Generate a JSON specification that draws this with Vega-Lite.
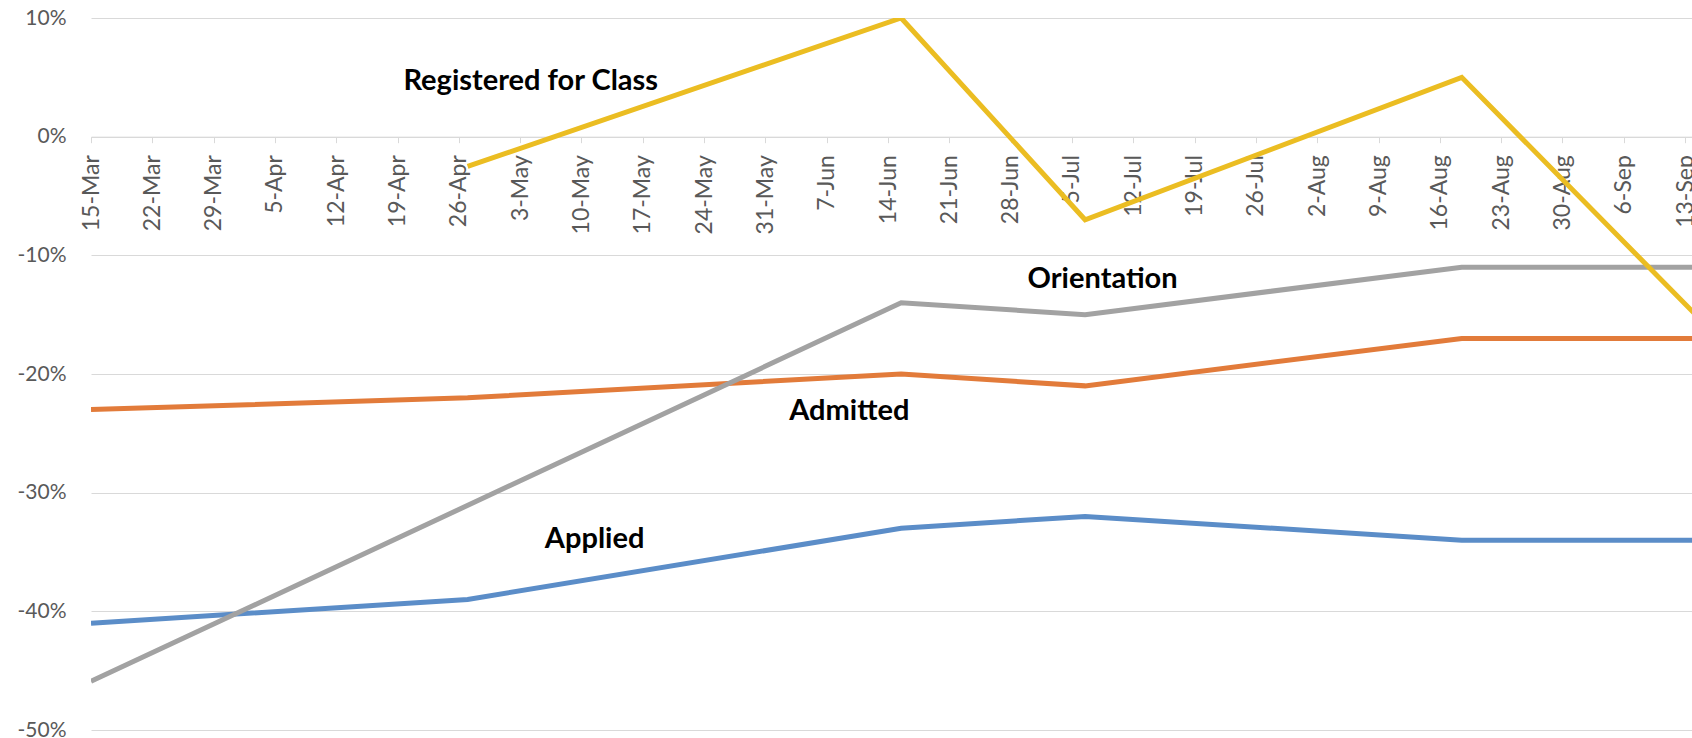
{
  "$schema": "https://vega.github.io/schema/vega-lite/v6.json",
  "width": 1601,
  "height": 712,
  "autosize": {"type": "none"},
  "padding": {"left": 91, "top": 18, "right": 0, "bottom": 8},
  "background": "white",
  "config": {"view": {"stroke": null}, "font": "Lato"},
  "datasets": {
    "series": [
      {"date": "2020-03-15T00:00:00Z", "series": "Applied", "value": -41},
      {"date": "2020-04-27T00:00:00Z", "series": "Applied", "value": -39},
      {"date": "2020-06-15T12:00:00Z", "series": "Applied", "value": -33},
      {"date": "2020-07-06T12:00:00Z", "series": "Applied", "value": -32},
      {"date": "2020-08-18T12:00:00Z", "series": "Applied", "value": -34},
      {"date": "2020-09-15T00:00:00Z", "series": "Applied", "value": -34},
      {"date": "2020-03-15T00:00:00Z", "series": "Admitted", "value": -23},
      {"date": "2020-04-27T00:00:00Z", "series": "Admitted", "value": -22},
      {"date": "2020-06-15T12:00:00Z", "series": "Admitted", "value": -20},
      {"date": "2020-07-06T12:00:00Z", "series": "Admitted", "value": -21},
      {"date": "2020-08-18T12:00:00Z", "series": "Admitted", "value": -17},
      {"date": "2020-09-15T00:00:00Z", "series": "Admitted", "value": -17},
      {"date": "2020-03-15T00:00:00Z", "series": "Orientation", "value": -45.9},
      {"date": "2020-06-15T12:00:00Z", "series": "Orientation", "value": -14},
      {"date": "2020-07-06T12:00:00Z", "series": "Orientation", "value": -15},
      {"date": "2020-08-18T12:00:00Z", "series": "Orientation", "value": -11},
      {"date": "2020-09-15T00:00:00Z", "series": "Orientation", "value": -11},
      {"date": "2020-04-27T00:00:00Z", "series": "Registered for Class", "value": -2.5},
      {"date": "2020-06-15T12:00:00Z", "series": "Registered for Class", "value": 10},
      {"date": "2020-07-06T12:00:00Z", "series": "Registered for Class", "value": -7},
      {"date": "2020-08-18T12:00:00Z", "series": "Registered for Class", "value": 5},
      {"date": "2020-09-15T00:00:00Z", "series": "Registered for Class", "value": -15.6}
    ],
    "notes": [
      {"date": "2020-05-04T05:00:00Z", "value": 4.7, "text": "Registered for Class"},
      {"date": "2020-07-08T12:00:00Z", "value": -12.0, "text": "Orientation"},
      {"date": "2020-06-09T14:00:00Z", "value": -23.1, "text": "Admitted"},
      {"date": "2020-05-11T12:00:00Z", "value": -33.9, "text": "Applied"}
    ]
  },
  "layer": [
    {
      "data": {"name": "series"},
      "mark": {"type": "line", "strokeWidth": 5, "clip": true},
      "encoding": {
        "x": {
          "field": "date",
          "type": "temporal",
          "scale": {
            "type": "utc",
            "domain": [
              {"year": 2020, "month": 3, "date": 15, "utc": true},
              {"year": 2020, "month": 9, "date": 13, "hours": 19, "utc": true}
            ]
          },
          "axis": {
            "title": null,
            "offset": -593.33,
            "tickCount": {"interval": "week", "step": 1},
            "labelExpr": "utcFormat(datum.value, '%-d-%b')",
            "labelAngle": -90,
            "labelFont": "Lato",
            "labelFontSize": 23,
            "labelColor": "#595959",
            "labelPadding": 12,
            "tickSize": 6,
            "tickColor": "#D9D9D9",
            "domainColor": "#D9D9D9",
            "grid": false,
            "labelOverlap": false,
            "labelBound": false,
            "labelFlush": false
          }
        },
        "y": {
          "field": "value",
          "type": "quantitative",
          "scale": {"domain": [-50, 10], "nice": false, "zero": false},
          "axis": {
            "title": null,
            "values": [-50, -40, -30, -20, -10, 0, 10],
            "labelExpr": "datum.value + '%'",
            "domain": false,
            "ticks": false,
            "labelPadding": 25,
            "labelFont": "Lato",
            "labelFontSize": 21,
            "labelColor": "#595959",
            "grid": true,
            "gridColor": "#D9D9D9",
            "gridWidth": 1
          }
        },
        "color": {
          "field": "series",
          "type": "nominal",
          "scale": {
            "domain": ["Applied", "Admitted", "Orientation", "Registered for Class"],
            "range": ["#5B8DC8", "#E27B3A", "#A2A2A2", "#EBBD22"]
          },
          "legend": null
        }
      }
    },
    {
      "data": {"name": "notes"},
      "mark": {"type": "text", "font": "Lato", "fontWeight": "bold", "fontSize": 29, "color": "black", "align": "center", "baseline": "middle"},
      "encoding": {
        "x": {"field": "date", "type": "temporal"},
        "y": {"field": "value", "type": "quantitative"},
        "text": {"field": "text"}
      }
    }
  ]
}
